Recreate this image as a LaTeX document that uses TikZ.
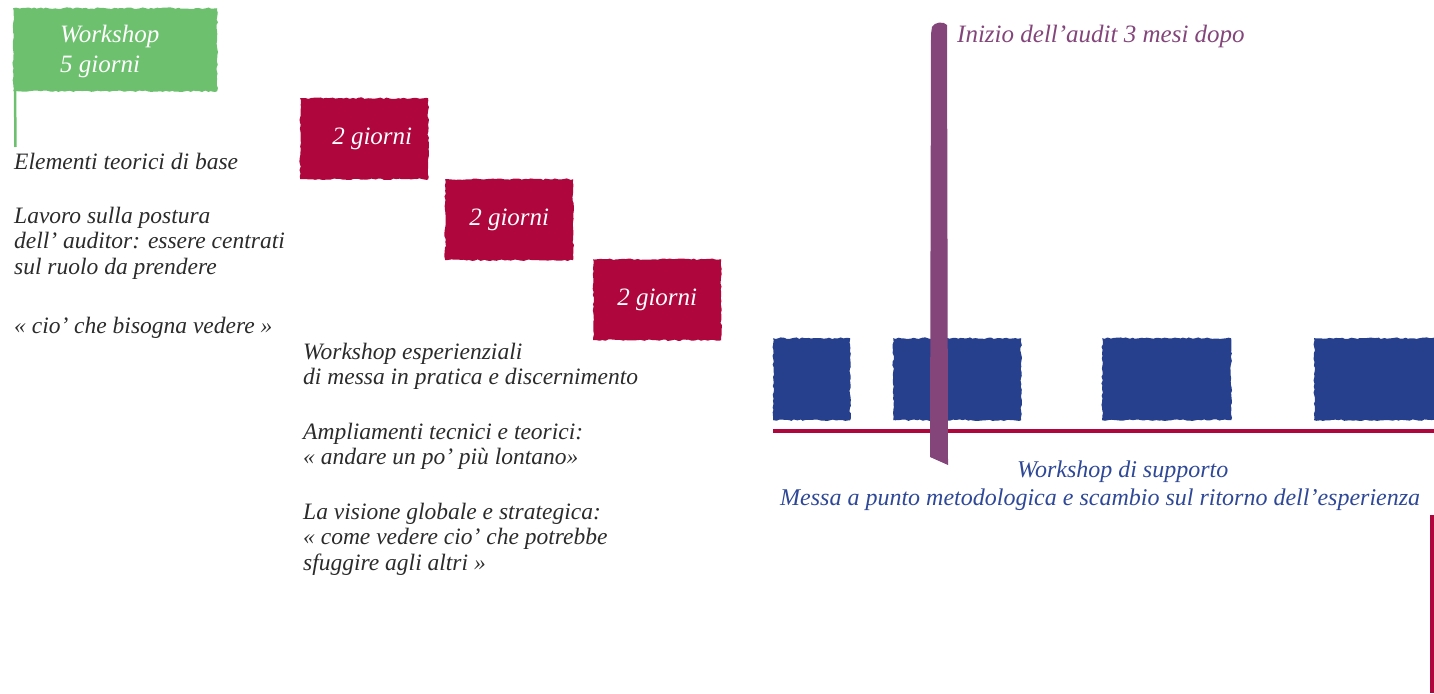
\documentclass[tikz,border=0pt]{standalone}
\usepackage{fontspec}
\setmainfont{Liberation Serif}[ItalicFont={Liberation Serif Italic}]
\usetikzlibrary{decorations.pathmorphing}
\definecolor{wgreen}{HTML}{6CC06E}
\definecolor{wcrimson}{HTML}{AE063D}
\definecolor{wblue}{HTML}{26408E}
\definecolor{wpurple}{HTML}{83457A}
\definecolor{wtext}{HTML}{2B2B2B}
\definecolor{wbluetext}{HTML}{2E4897}
\begin{document}
\begin{tikzpicture}[x=1pt,y=-1pt,
  rough/.style={decorate, decoration={random steps, segment length=3pt, amplitude=0.8pt}},
  patch/.style={rough, inner sep=0pt, anchor=north west},
  crimsonbox/.style={patch, fill=wcrimson, minimum width=128pt, minimum height=81pt, text=white,
     font=\fontsize{25}{29}\selectfont\itshape},
  bluebox/.style={patch, fill=wblue, minimum height=82pt},
  body/.style={anchor=base west, inner sep=0pt, text=wtext, font=\fontsize{23.5}{25.5}\selectfont\itshape},
]
\pgfmathsetseed{11}
\useasboundingbox (0,0) rectangle (1434,693);

% green workshop flag
\node[patch, fill=wgreen, minimum width=204pt, minimum height=83pt] (green) at (13,8) {};
\coordinate (poletop) at (15,88);
\coordinate (polebot) at (15.5,147);
\draw[wgreen, line width=2.5pt] (poletop) -- (polebot);
\node[anchor=base west, inner sep=0pt, text=white, font=\fontsize{25}{30}\selectfont\itshape] (greentxt) at (60,43)
  {\parbox[t]{150pt}{\raggedright Workshop\\5 giorni}};

% left texts
\node[body] (l1) at (14,169) {Elementi teorici di base};
\node[body] (l2) at (14,223) {\parbox[t]{300pt}{\raggedright Lavoro sulla postura\\dell’ auditor: essere centrati\\sul ruolo da prendere}};
\node[body] (l3) at (14,333) {« cio’ che bisogna vedere »};

% crimson boxes
\node[crimsonbox] (c1) at (300,98) {\hspace*{16pt}2 giorni};
\node[crimsonbox] (c2) at (445,179) {2 giorni};
\node[crimsonbox] (c3) at (593,259) {2 giorni};

% middle texts
\node[body] (m1) at (303,359) {\parbox[t]{400pt}{\raggedright Workshop esperienziali\\di messa in pratica e discernimento}};
\node[body] (m2) at (303,439) {\parbox[t]{400pt}{\raggedright Ampliamenti tecnici e teorici:\\« andare un po’ più lontano»}};
\node[body] (m3) at (303,519) {\parbox[t]{400pt}{\raggedright La visione globale e strategica:\\« come vedere cio’ che potrebbe\\sfuggire agli altri »}};

% blue boxes
\node[bluebox, minimum width=77pt] (b1) at (773,338) {};
\node[bluebox, minimum width=128pt] (b2) at (893,338) {};
\node[bluebox, minimum width=129pt] (b3) at (1102,338) {};
\node[bluebox, minimum width=124pt] (b4) at (1314,338) {};

% crimson timeline
\coordinate (tl1) at (773,431);
\coordinate (tl2) at (1434,431);
\draw[wcrimson, line width=4pt] (tl1) -- (tl2);

% purple audit bar
\fill[wpurple] (931,34) -- (932,27) .. controls (934,22) and (944,21) .. (947,25)
  -- (948,465) -- (930,457) -- cycle;
\node[anchor=base west, inner sep=0pt, text=wpurple, font=\fontsize{25}{28}\selectfont\itshape] (audit) at (957,43)
  {Inizio dell’audit 3 mesi dopo};

% blue captions
\node[anchor=base west, inner sep=0pt, text=wbluetext, font=\fontsize{24}{28}\selectfont\itshape] (sup1) at (1017,477)
  {Workshop di supporto};
\node[anchor=base west, inner sep=0pt, text=wbluetext, font=\fontsize{24}{28}\selectfont\itshape] (sup2) at (780,505)
  {Messa a punto metodologica e scambio sul ritorno dell’esperienza};

% right crimson line
\coordinate (r1) at (1432,515);
\coordinate (r2) at (1432,693);
\draw[wcrimson, line width=4pt] (r1) -- (r2);
\end{tikzpicture}
\end{document}
